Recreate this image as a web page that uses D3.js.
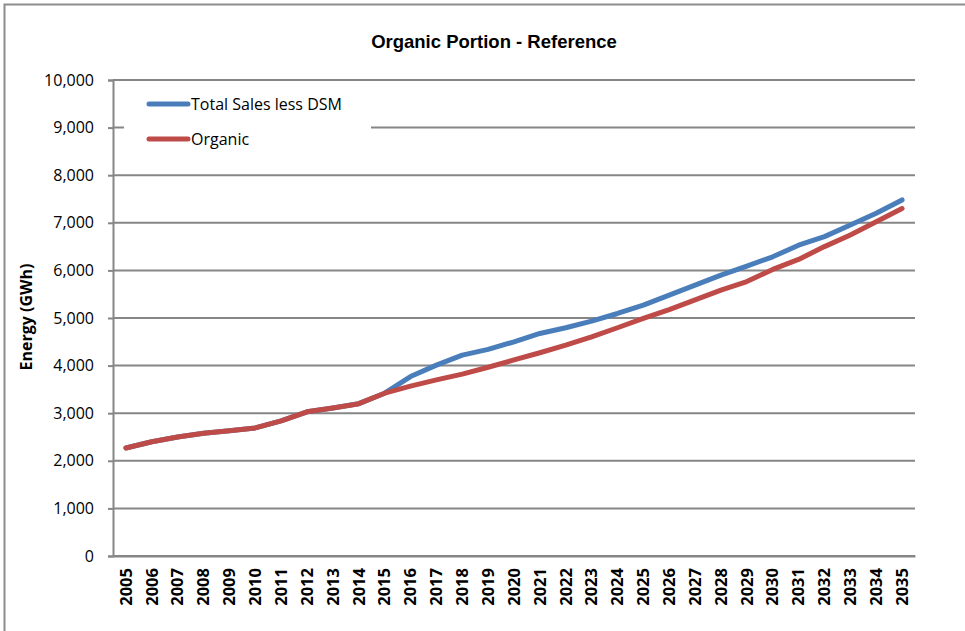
<!DOCTYPE html>
<html>
<head>
<meta charset="utf-8">
<script src="https://cdn.jsdelivr.net/npm/d3@7"></script>
<style>
  body { margin: 0; background: #fff; }
  svg { display: block; }
</style>
</head>
<body>
<div id="chart"></div>
<script>
// chart size
const width = 965;
const height = 631;

// data
const years = ["2005", "2006", "2007", "2008", "2009", "2010", "2011", "2012", "2013", "2014",
    "2015", "2016", "2017", "2018", "2019", "2020", "2021", "2022", "2023", "2024",
    "2025", "2026", "2027", "2028", "2029", "2030", "2031", "2032", "2033", "2034", "2035"];
const totalSales = [2270, 2400, 2500, 2580, 2630, 2690, 2840, 3030, 3110, 3200,
    3420, 3770, 4010, 4220, 4340, 4500, 4675, 4795, 4935, 5095,
    5270, 5480, 5690, 5900, 6090, 6285, 6530, 6710, 6955, 7200, 7480];
const organic = [2270, 2400, 2500, 2580, 2630, 2690, 2840, 3030, 3110, 3200,
    3420, 3570, 3700, 3820, 3965, 4120, 4270, 4430, 4605, 4795,
    4990, 5175, 5380, 5585, 5765, 6020, 6230, 6500, 6745, 7020, 7300];
const yTicks = [0, 1000, 2000, 3000, 4000, 5000, 6000, 7000, 8000, 9000, 10000];
const seriesNames = ["Total Sales less DSM", "Organic"];
const seriesColors = ["#4a7ebb", "#be4b48"];

// plot area
const plot = { left: 113, right: 915, top: 80, bottom: 556 };
const gridColor = "#868686";

const svg = d3.select("#chart")
    .append("svg")
    .attr("width", width)
    .attr("height", height);

// outer chart border (cropped on the right and bottom)
svg.append("rect")
    .attr("x", 4.5)
    .attr("y", 4.5)
    .attr("width", width + 20)
    .attr("height", height + 20)
    .attr("fill", "#fff")
    .attr("stroke", "#8c8c8c")
    .attr("stroke-width", 2);

const x = d3.scaleBand()
    .domain(years)
    .range([plot.left, plot.right])
    .padding(0);

const y = d3.scaleLinear()
    .domain([0, 10000])
    .range([plot.bottom, plot.top]);

// gridlines
svg.append("g")
    .attr("class", "grid")
    .selectAll("line")
    .data(yTicks)
    .enter()
    .append("line")
    .attr("x1", plot.left)
    .attr("x2", plot.right)
    .attr("y1", d => y(d))
    .attr("y2", d => y(d))
    .attr("stroke", gridColor)
    .attr("stroke-width", 2);

// y axis
const yAxis = d3.axisLeft(y)
    .tickValues(yTicks)
    .tickSize(5)
    .tickPadding(14)
    .tickFormat(d3.format(","));

const yG = svg.append("g")
    .attr("transform", `translate(${plot.left},0)`)
    .call(yAxis);
yG.select(".domain").attr("stroke", gridColor).attr("stroke-width", 2);
yG.selectAll(".tick line").attr("stroke", gridColor).attr("stroke-width", 2);
yG.selectAll(".tick text")
    .style("font-family", "'Open Sans', sans-serif")
    .style("font-size", "16px")
    .attr("fill", "#000");

// x axis
const xAxis = d3.axisBottom(x)
    .tickSize(0)
    .tickSizeOuter(0)
    .tickPadding(0);

const xG = svg.append("g")
    .attr("transform", `translate(0,${plot.bottom})`)
    .call(xAxis);
xG.select(".domain").attr("stroke", gridColor).attr("stroke-width", 2);
xG.selectAll(".tick text")
    .attr("transform", "rotate(-90)")
    .attr("x", -12)
    .attr("y", 0)
    .attr("dy", "0.35em")
    .attr("text-anchor", "end")
    .style("font-family", "'Open Sans', sans-serif")
    .style("font-weight", "bold")
    .style("font-size", "16.5px")
    .attr("fill", "#000");

// y axis title
svg.append("text")
    .attr("transform", "translate(32,317) rotate(-90)")
    .attr("text-anchor", "middle")
    .style("font-family", "'Open Sans', sans-serif")
    .style("font-weight", "bold")
    .style("font-size", "16px")
    .text("Energy (GWh)");

// chart title
svg.append("text")
    .attr("x", 494)
    .attr("y", 48)
    .attr("text-anchor", "middle")
    .style("font-family", "'Liberation Sans', Arial, sans-serif")
    .style("font-weight", "bold")
    .style("font-size", "18.5px")
    .text("Organic Portion - Reference");

// lines
const line = d3.line()
    .x((d, i) => x(years[i]) + x.bandwidth() / 2)
    .y(d => y(d));

const seriesData = [totalSales, organic];
svg.append("g")
    .attr("class", "series")
    .selectAll("path")
    .data(seriesData)
    .enter()
    .append("path")
    .attr("d", line)
    .attr("fill", "none")
    .attr("stroke", (d, i) => seriesColors[i])
    .attr("stroke-width", 5)
    .attr("stroke-linecap", "round")
    .attr("stroke-linejoin", "round");

// legend
const legend = svg.append("g").attr("class", "legend");
legend.append("rect")
    .attr("x", 124)
    .attr("y", 88)
    .attr("width", 247)
    .attr("height", 66)
    .attr("fill", "#fff");

const items = legend.selectAll("g.item")
    .data(seriesNames)
    .enter()
    .append("g")
    .attr("class", "item")
    .attr("transform", (d, i) => `translate(0,${104 + i * 35})`);

items.append("line")
    .attr("x1", 149)
    .attr("x2", 188)
    .attr("stroke", (d, i) => seriesColors[i])
    .attr("stroke-width", 5)
    .attr("stroke-linecap", "round");

items.append("text")
    .attr("x", 191)
    .attr("dy", "0.35em")
    .style("font-family", "'Open Sans', sans-serif")
    .style("font-size", "16px")
    .text(d => d);
</script>
</body>
</html>
